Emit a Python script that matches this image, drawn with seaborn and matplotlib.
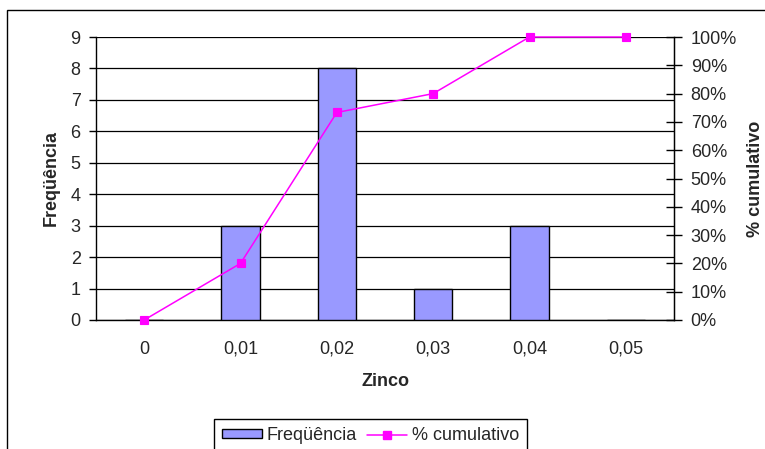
import matplotlib
matplotlib.use("Agg")
import matplotlib.pyplot as plt
from matplotlib.patches import Patch, Rectangle
from matplotlib.lines import Line2D
from matplotlib.ticker import FuncFormatter, FixedLocator, NullFormatter
import seaborn as sns
import pandas as pd

# Histogram data: zinc content classes, counts and cumulative percentage
classes = ["0", "0,01", "0,02", "0,03", "0,04", "0,05"]
frequencia = [0, 3, 8, 1, 3, 0]
cumulativo = [0.0, 20.0, 73.33, 80.0, 100.0, 100.0]

sns.set_style("white")
plt.rcParams["font.family"] = ["Liberation Sans", "DejaVu Sans"]
FS = 13

df = pd.DataFrame({"Zinco": classes, "Freq": frequencia, "Cum": cumulativo})

W, H = 765, 449
fig = plt.figure(figsize=(W / 100, H / 100), dpi=100)
ax = fig.add_axes([96 / W, 1 - 320 / H, (674 - 96) / W, (320 - 37) / H])

sns.barplot(data=df, x="Zinco", y="Freq", order=classes, color="#9999FF",
            saturation=1, width=0.4, edgecolor="black", linewidth=1,
            ax=ax, zorder=3)
ax.set_xlim(-0.5, 5.5)
ax.set_ylim(0, 9)
ax.set_yticks(range(0, 10))
ax.yaxis.grid(True, color="black", linewidth=0.9)
ax.set_axisbelow(True)
ax.spines["top"].set_visible(False)
for s in ["left", "bottom", "right"]:
    ax.spines[s].set_color("black")
    ax.spines[s].set_linewidth(1)

# category boundary ticks on the x axis
ax.xaxis.set_minor_locator(FixedLocator([i - 0.5 for i in range(7)]))
ax.xaxis.set_minor_formatter(NullFormatter())
ax.tick_params(axis="x", which="minor", direction="out", length=6, width=1, color="black")
ax.tick_params(axis="x", which="major", length=0, pad=15, labelsize=FS)
ax.tick_params(axis="y", direction="out", length=5, width=1, color="black", labelsize=FS, pad=6)
ax.set_xlabel("Zinco", fontweight="bold", fontsize=FS, labelpad=11)
ax.set_ylabel("Freqüência", fontweight="bold", fontsize=FS, labelpad=8)

ax2 = ax.twinx()
sns.pointplot(data=df, x="Zinco", y="Cum", order=classes, color="#FF00FF",
              markers="s", markersize=6, linewidth=1.1, ax=ax2, zorder=4)
for ln in ax2.lines:
    ln.set_clip_on(False)
ax2.set_xlim(-0.5, 5.5)
ax2.set_ylim(0, 100)
ax2.set_yticks(range(0, 101, 10))
ax2.yaxis.set_major_formatter(FuncFormatter(lambda v, p: f"{v:.0f}%"))
ax2.tick_params(axis="y", direction="inout", length=12, width=1, color="black", labelsize=FS, pad=6)
ax2.set_xlabel("")
ax2.set_ylabel("% cumulativo", fontweight="bold", fontsize=FS, labelpad=7)
for s in ["top", "left", "bottom"]:
    ax2.spines[s].set_visible(False)
ax2.spines["right"].set_color("black")
ax2.grid(False)

# outer chart frame
fig.add_artist(Rectangle((7 / W, -0.1), 2, 1 - 10 / H + 0.1, transform=fig.transFigure,
                         fill=False, edgecolor="black", linewidth=1))

handles = [
    Patch(facecolor="#9999FF", edgecolor="black", linewidth=1),
    Line2D([0], [0], color="#FF00FF", marker="s", markersize=6, linewidth=1.1),
]
fig.legend(handles, ["Freqüência", "% cumulativo"], loc="upper center",
           bbox_to_anchor=(370.5 / W, 1 - 419 / H), ncol=2, frameon=True,
           fancybox=False, edgecolor="black", framealpha=1, fontsize=FS,
           handlelength=2.2, handleheight=0.4, handletextpad=0.28,
           columnspacing=0.55, borderaxespad=0, borderpad=0.45)

fig.savefig("out.png", dpi=100)
